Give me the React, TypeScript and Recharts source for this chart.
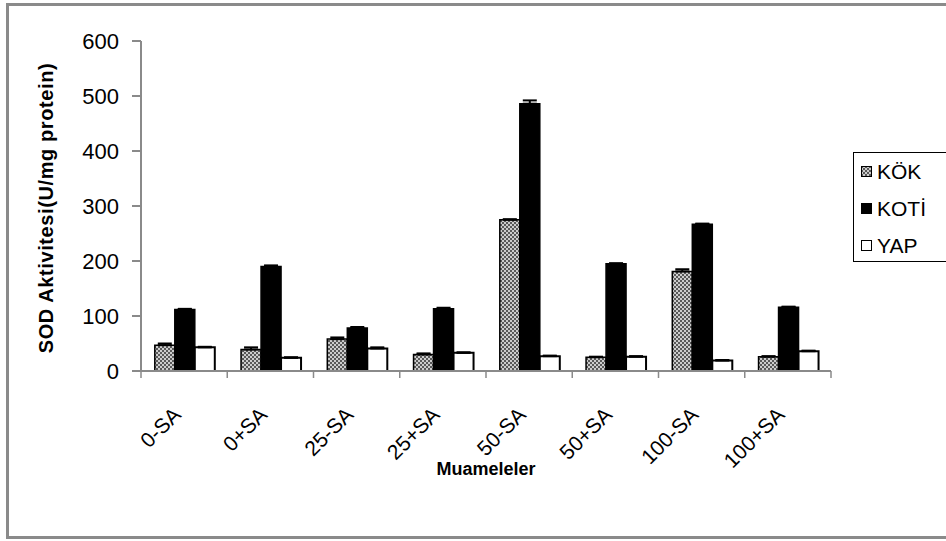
import React from 'react';
import { BarChart, Bar, XAxis, YAxis, ErrorBar, Legend, Label } from 'recharts';

const categories = ['0-SA', '0+SA', '25-SA', '25+SA', '50-SA', '50+SA', '100-SA', '100+SA'];
const kokValues = [47, 39, 58, 30, 275, 25, 181, 26];
const kotiValues = [112, 190, 78, 113, 486, 195, 267, 116];
const yapValues = [43, 24, 41, 33, 27, 26, 19, 36];
const kokErrors = [3, 4, 3, 2, 1, 1, 4, 1];
const kotiErrors = [1, 2, 2, 2, 6, 1, 1, 1];
const yapErrors = [1, 1, 2, 1, 1, 1, 1, 1];
const yTicks = [0, 100, 200, 300, 400, 500, 600];
const seriesNames = ['KÖK', 'KOTİ', 'YAP'];

const data = categories.map((name, i) => ({
  name,
  kok: kokValues[i],
  koti: kotiValues[i],
  yap: yapValues[i],
  kokErr: [0, kokErrors[i]],
  kotiErr: [0, kotiErrors[i]],
  yapErr: [0, yapErrors[i]],
}));

const FONT = '"Liberation Sans", Arial, Helvetica, sans-serif';
const GRAY = '#8a8a8a';

const XTick = (props: any) => {
  const { x, y, payload, index, visibleTicksCount } = props;
  const off = payload && typeof payload.offset === 'number' ? payload.offset : 0;
  const tx = x - 2;
  const ty = y + 45;
  return (
    <g>
      <line x1={x - off} x2={x - off} y1={y} y2={y + 7} stroke={GRAY} strokeWidth={1.5} />
      {index === visibleTicksCount - 1 ? (
        <line x1={x + off} x2={x + off} y1={y} y2={y + 7} stroke={GRAY} strokeWidth={1.5} />
      ) : null}
      <text
        x={tx}
        y={ty}
        transform={`rotate(-45, ${tx}, ${ty})`}
        textAnchor="end"
        fontSize={21}
        fontFamily={FONT}
        fill="#000"
      >
        {payload.value}
      </text>
    </g>
  );
};

const LegendContent = () => {
  const swatches: Record<string, React.ReactNode> = {
    'KÖK': <rect x={0.5} y={0.5} width={10} height={10} fill="url(#kokPattern)" stroke="#000" strokeWidth={1} />,
    'KOTİ': <rect x={0.5} y={0.5} width={10} height={10} fill="#000" stroke="#000" strokeWidth={1} />,
    'YAP': <rect x={0.5} y={0.5} width={10} height={10} fill="#fff" stroke="#000" strokeWidth={1} />,
  };
  return (
    <div
      style={{
        border: '1px solid #000',
        background: '#fff',
        width: 110,
        height: 110,
        boxSizing: 'border-box',
        paddingLeft: 7,
        paddingTop: 0,
        fontFamily: FONT,
        fontSize: 21,
      }}
    >
      {seriesNames.map((n) => (
        <div key={n} style={{ display: 'flex', alignItems: 'center', height: 37 }}>
          <svg width={12} height={12} style={{ marginRight: 4 }}>
            {swatches[n]}
          </svg>
          <span>{n}</span>
        </div>
      ))}
    </div>
  );
};

export default function App() {
  return (
    <div style={{ position: 'absolute', left: 0, top: 0, width: 946, height: 541, overflow: 'hidden', background: '#fff' }}>
      <svg width={0} height={0} style={{ position: 'absolute' }}>
        <defs>
          <pattern id="kokPattern" width={4} height={4} patternUnits="userSpaceOnUse">
            <rect width={4} height={4} fill="#cccccc" />
            <rect x={0} y={0} width={2} height={2} fill="#595959" />
            <rect x={2} y={2} width={2} height={2} fill="#595959" />
          </pattern>
        </defs>
      </svg>
      <div
        style={{
          position: 'absolute',
          left: 6,
          top: 3,
          width: 1000,
          height: 536,
          border: `3px solid ${GRAY}`,
          boxSizing: 'border-box',
        }}
      />
      <div style={{ position: 'absolute', left: 0, top: 0 }}>
        <BarChart
          width={946}
          height={541}
          data={data}
          margin={{ top: 41, right: 115, bottom: 0, left: 0 }}
          barCategoryGap="16%"
          barGap={0}
        >
          <XAxis
            dataKey="name"
            height={170}
            stroke={GRAY}
            strokeWidth={2}
            tickLine={false}
            tickSize={0}
            tickMargin={0}
            tick={<XTick />}
            interval={0}
          >
            <Label
              content={(p: any) => {
                const vb = p.viewBox || {};
                return (
                  <text
                    x={vb.x + vb.width / 2}
                    y={vb.y + 104}
                    textAnchor="middle"
                    fontSize={18}
                    fontWeight="bold"
                    fontFamily={FONT}
                    fill="#000"
                  >
                    Muameleler
                  </text>
                );
              }}
            />
          </XAxis>
          <XAxis xAxisId="top" dataKey="name" orientation="top" height={0} tick={false} tickLine={false} stroke={GRAY} strokeWidth={2} />
          <YAxis
            width={141}
            domain={[0, 600]}
            ticks={yTicks}
            interval={0}
            stroke={GRAY}
            strokeWidth={2}
            tickSize={9}
            tickMargin={13}
            tick={{ fontSize: 22, fontFamily: FONT, fill: '#000' }}
          >
            <Label
              content={(p: any) => {
                const vb = p.viewBox || {};
                const cx = vb.x + 46;
                const cy = vb.y + vb.height / 2 + 2;
                return (
                  <text
                    x={cx}
                    y={cy}
                    transform={`rotate(-90, ${cx}, ${cy})`}
                    textAnchor="middle"
                    dominantBaseline="central"
                    fontSize={20}
                    fontWeight="bold"
                    letterSpacing={0.6}
                    fontFamily={FONT}
                    fill="#000"
                  >
                    SOD Aktivitesi(U/mg protein)
                  </text>
                );
              }}
            />
          </YAxis>
          <YAxis yAxisId="right" orientation="right" width={0} domain={[0, 600]} tick={false} tickLine={false} stroke={GRAY} strokeWidth={2} />
          <Legend
            layout="vertical"
            align="center"
            verticalAlign="middle"
            content={<LegendContent />}
            wrapperStyle={{ left: 853, top: 152, width: 110, height: 110 }}
          />
          <Bar dataKey="kok" name="KÖK" fill="url(#kokPattern)" stroke="#000" strokeWidth={1.5} isAnimationActive={false}>
            <ErrorBar dataKey="kokErr" direction="y" width={7} stroke="#000" strokeWidth={2} />
          </Bar>
          <Bar dataKey="koti" name="KOTİ" fill="#000" stroke="#000" strokeWidth={1.5} isAnimationActive={false}>
            <ErrorBar dataKey="kotiErr" direction="y" width={7} stroke="#000" strokeWidth={2} />
          </Bar>
          <Bar dataKey="yap" name="YAP" fill="#fff" stroke="#000" strokeWidth={2} isAnimationActive={false}>
            <ErrorBar dataKey="yapErr" direction="y" width={7} stroke="#000" strokeWidth={2} />
          </Bar>
        </BarChart>
      </div>
    </div>
  );
}
